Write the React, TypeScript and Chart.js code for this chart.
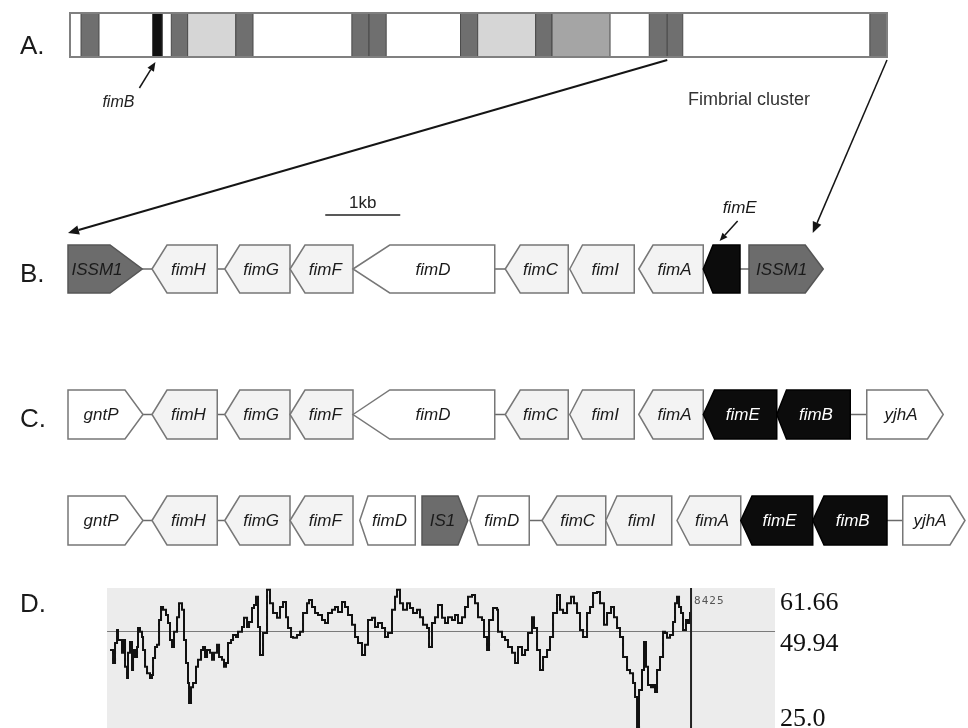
import React, { useEffect, useRef } from "react";
import { Chart, registerables } from "chart.js";

Chart.register(...registerables);

// ---------------- Panel A : chromosome map (position, % of mapped region) ----------------
const mapLength = 100;
const mapSegStart = [1.35, 10.1, 12.4, 14.4, 20.3, 34.5, 36.6, 47.8, 49.9, 57.0, 59.0, 70.9, 73.1, 97.9];
const mapSegEnd = [3.55, 11.3, 14.4, 20.3, 22.4, 36.6, 38.7, 49.9, 57.0, 59.0, 66.1, 73.1, 75.0, 100];
const mapSegKind = ["dark", "black", "dark", "light", "dark", "dark", "dark", "dark", "light", "dark", "mid", "dark", "dark", "dark"];
const fimBMapPos = 10.7;
const clusterMapStart = 73.1;
const clusterMapEnd = 100;

// ---------------- Panel B : fimbrial cluster (kb) ----------------
const rowBNames = ["ISSM1", "fimH", "fimG", "fimF", "fimD", "fimC", "fimI", "fimA", "fimE", "ISSM1"];
const rowBStart = [0.0, 1.12, 2.09, 2.96, 3.8, 5.83, 6.69, 7.61, 8.47, 9.08];
const rowBEnd = [0.99, 1.99, 2.96, 3.8, 5.69, 6.67, 7.55, 8.47, 8.96, 10.07];
const rowBStrand = [1, -1, -1, -1, -1, -1, -1, -1, -1, 1];
const rowBHead = [0.43, 0.2, 0.2, 0.2, 0.49, 0.2, 0.17, 0.19, 0.13, 0.24];
const rowBLinks = [[0.99, 1.12], [1.99, 2.09], [5.69, 5.83], [8.96, 9.08]];
const rowBCallout = [8];
const clusterRowStart = 0.0;
const clusterRowEnd = 9.93;

// ---------------- Panel C : fim operons (kb) ----------------
const rowCNames = ["gntP", "fimH", "fimG", "fimF", "fimD", "fimC", "fimI", "fimA", "fimE", "fimB", "yjhA"];
const rowCStart = [0.0, 1.12, 2.09, 2.96, 3.8, 5.83, 6.69, 7.61, 8.47, 9.45, 10.65];
const rowCEnd = [1.0, 1.99, 2.96, 3.8, 5.69, 6.67, 7.55, 8.47, 9.45, 10.43, 11.67];
const rowCStrand = [1, -1, -1, -1, -1, -1, -1, -1, -1, -1, 1];
const rowCHead = [0.24, 0.2, 0.2, 0.2, 0.49, 0.2, 0.17, 0.19, 0.15, 0.13, 0.21];
const rowCLinks = [[1.0, 1.12], [1.99, 2.09], [5.69, 5.83], [10.43, 10.65]];

const rowC2Names = ["gntP", "fimH", "fimG", "fimF", "fimD", "IS1", "fimD", "fimC", "fimI", "fimA", "fimE", "fimB", "yjhA"];
const rowC2Start = [0.0, 1.12, 2.09, 2.96, 3.89, 4.72, 5.36, 6.32, 7.17, 8.12, 8.97, 9.93, 11.13];
const rowC2End = [1.0, 1.99, 2.96, 3.8, 4.63, 5.33, 6.15, 7.17, 8.05, 8.97, 9.93, 10.92, 11.96];
const rowC2Strand = [1, -1, -1, -1, -1, 1, -1, -1, -1, -1, -1, -1, 1];
const rowC2Head = [0.24, 0.2, 0.2, 0.2, 0.11, 0.13, 0.11, 0.2, 0.15, 0.17, 0.15, 0.15, 0.2];
const rowC2Links = [[1.0, 1.12], [1.99, 2.09], [6.15, 6.32], [10.92, 11.13]];

const scaleBarStart = 3.43;
const scaleBarLength = 1; // kb

// ---------------- Panel D : GC content (bp, %) ----------------
const gcPos = [0, 44, 73, 102, 116, 174, 189, 218, 247, 261, 290, 319, 334, 363, 392, 406, 435, 464, 479, 508,
  537, 580, 609, 624, 653, 682, 711, 740, 769, 812, 841, 870, 899, 928, 972, 1001, 1044, 1073, 1102, 1131,
  1146, 1175, 1204, 1247, 1276, 1320, 1349, 1378, 1407, 1450, 1479, 1508, 1552, 1581, 1624, 1653, 1682, 1711, 1755, 1784,
  1827, 1856, 1914, 1943, 1987, 2016, 2059, 2088, 2117, 2146, 2175, 2219, 2277, 2320, 2364, 2422, 2465, 2509, 2552, 2581,
  2625, 2654, 2712, 2755, 2799, 2857, 2886, 2929, 2973, 3016, 3074, 3118, 3161, 3219, 3263, 3306, 3364, 3408, 3451, 3509,
  3553, 3596, 3654, 3698, 3741, 3799, 3843, 3886, 3944, 3988, 4031, 4089, 4133, 4162, 4205, 4249, 4307, 4350, 4394, 4452,
  4495, 4539, 4597, 4626, 4669, 4713, 4756, 4814, 4858, 4901, 4959, 5003, 5046, 5104, 5148, 5191, 5249, 5293, 5336, 5394,
  5423, 5467, 5496, 5554, 5612, 5626, 5684, 5728, 5771, 5829, 5873, 5916, 5974, 6018, 6061, 6119, 6148, 6192, 6235, 6279,
  6337, 6380, 6424, 6482, 6525, 6569, 6627, 6685, 6728, 6772, 6815, 6859, 6917, 6960, 7004, 7062, 7105, 7163, 7207, 7265,
  7308, 7352, 7395, 7439, 7497, 7540, 7584, 7613, 7642, 7671, 7714, 7743, 7772, 7801, 7845, 7874, 7903, 7932, 7975, 8019,
  8048, 8077, 8120, 8164, 8193, 8222, 8251, 8280, 8309, 8352, 8381, 8410];
const gcVal = [44.5, 40.8, 46.5, 50.2, 47.4, 43.7, 47.4, 39.7, 36.5, 43.7, 46.8, 38.8, 44.5, 42.5, 45.4, 50.8, 49.7, 48.2, 44.5, 39.7,
  37.9, 36.5, 37.4, 42.2, 45.4, 46.0, 53.1, 56.8, 56.0, 54.5, 52.2, 47.4, 45.4, 49.7, 53.9, 57.9, 56.0, 47.4, 40.8, 35.1,
  29.4, 33.9, 35.1, 39.7, 41.7, 44.5, 45.4, 42.5, 44.5, 43.7, 41.7, 43.7, 46.0, 42.5, 41.7, 39.7, 40.8, 46.5, 47.4, 48.8,
  48.2, 49.7, 51.1, 53.7, 51.1, 52.5, 56.5, 57.4, 59.7, 51.1, 43.1, 49.4, 61.7, 57.9, 55.1, 53.7, 56.8, 58.2, 53.9, 50.8,
  48.2, 48.0, 48.8, 49.7, 55.1, 57.9, 58.8, 56.8, 55.1, 54.5, 53.1, 52.2, 55.1, 56.0, 56.8, 55.4, 58.2, 56.8, 54.5, 51.7,
  48.2, 46.5, 43.1, 46.0, 53.1, 53.7, 51.1, 52.2, 50.8, 48.2, 49.4, 56.0, 59.7, 61.7, 57.9, 56.0, 57.9, 56.5, 55.1, 56.0,
  53.9, 51.7, 50.8, 45.4, 52.2, 53.9, 57.4, 53.7, 52.2, 53.9, 53.1, 54.5, 52.2, 53.9, 56.8, 59.7, 60.2, 57.9, 53.9, 53.1,
  48.2, 44.5, 53.1, 56.5, 56.0, 49.7, 48.2, 47.4, 45.4, 43.7, 40.8, 45.4, 43.1, 44.5, 49.4, 53.9, 50.8, 44.5, 38.8, 42.5,
  44.5, 48.2, 55.1, 60.2, 56.0, 55.1, 57.9, 59.7, 57.9, 55.1, 50.2, 48.2, 55.1, 56.8, 60.8, 61.1, 57.9, 51.7, 55.1, 56.8,
  53.9, 50.8, 48.2, 42.5, 38.8, 37.9, 35.1, 31.1, 22.5, 33.1, 38.8, 46.8, 39.7, 34.5, 33.9, 34.5, 32.5, 38.8, 42.5, 49.7,
  49.4, 48.0, 48.8, 52.5, 57.9, 59.7, 56.8, 55.1, 50.2, 53.1, 52.2, 55.4];
const gcTickLabels = ["61.66", "49.94", "25.0"];
const gcTickValues = [61.66, 49.94, 25.0];
const gcMean = 49.94;
const gcCursor = 8425;
const gcPanelStart = -43;
const gcPanelEnd = 9643;

// ---------------- layout (canvas units) ----------------
const W = 968;
const H = 728;
const SANS = '"Liberation Sans", Arial, Helvetica, sans-serif';
const SERIF = '"Liberation Serif", "Times New Roman", serif';

function geneFill(name: string) {
  if (name.startsWith("IS")) return "#6c6c6c";
  if (name === "fimE" || name === "fimB") return "#0c0c0c";
  if (name === "fimD" || name === "gntP" || name === "yjhA") return "#ffffff";
  return "#f3f3f3";
}
function geneStroke(name: string) {
  if (name.startsWith("IS")) return "#555555";
  if (name === "fimE" || name === "fimB") return "#000000";
  return "#777777";
}
function mapFill(kind: string) {
  if (kind === "dark") return "#6f6f6f";
  if (kind === "black") return "#111111";
  if (kind === "light") return "#d6d6d6";
  return "#a5a5a5";
}

function arrowLine(ctx: CanvasRenderingContext2D, x0: number, y0: number, x1: number, y1: number, headLen: number, width: number) {
  ctx.save();
  ctx.strokeStyle = "#151515";
  ctx.fillStyle = "#151515";
  ctx.lineWidth = width;
  const ang = Math.atan2(y1 - y0, x1 - x0);
  const bx = x1 - headLen * Math.cos(ang);
  const by = y1 - headLen * Math.sin(ang);
  ctx.beginPath();
  ctx.moveTo(x0, y0);
  ctx.lineTo(bx, by);
  ctx.stroke();
  const hw = headLen * 0.42;
  ctx.beginPath();
  ctx.moveTo(x1, y1);
  ctx.lineTo(bx + hw * Math.sin(ang), by - hw * Math.cos(ang));
  ctx.lineTo(bx - hw * Math.sin(ang), by + hw * Math.cos(ang));
  ctx.closePath();
  ctx.fill();
  ctx.restore();
}

function drawRow(
  ctx: CanvasRenderingContext2D, xs: any, ys: any,
  names: string[], starts: number[], ends: number[], strands: number[], heads: number[],
  links: number[][], top: number, bot: number, callouts: number[] = []
) {
  const yT = ys.getPixelForValue(top);
  const yB = ys.getPixelForValue(bot);
  const yM = (yT + yB) / 2;
  ctx.save();
  ctx.strokeStyle = "#6a6a6a";
  ctx.lineWidth = 1.5;
  links.forEach(([a, b]) => {
    ctx.beginPath();
    ctx.moveTo(xs.getPixelForValue(a), yM);
    ctx.lineTo(xs.getPixelForValue(b), yM);
    ctx.stroke();
  });
  names.forEach((n, i) => {
    const s = xs.getPixelForValue(starts[i]);
    const e = xs.getPixelForValue(ends[i]);
    const h = xs.getPixelForValue(starts[i] + heads[i]) - s;
    ctx.beginPath();
    if (strands[i] > 0) {
      ctx.moveTo(s, yT); ctx.lineTo(e - h, yT); ctx.lineTo(e, yM); ctx.lineTo(e - h, yB); ctx.lineTo(s, yB);
    } else {
      ctx.moveTo(s, yM); ctx.lineTo(s + h, yT); ctx.lineTo(e, yT); ctx.lineTo(e, yB); ctx.lineTo(s + h, yB);
    }
    ctx.closePath();
    ctx.fillStyle = geneFill(n);
    ctx.fill();
    ctx.strokeStyle = geneStroke(n);
    ctx.lineWidth = 1.5;
    ctx.stroke();
    if (!callouts.includes(i)) {
      const cx = (s + e) / 2 - (strands[i] * h) / 4;
      ctx.fillStyle = n === "fimE" || n === "fimB" ? "#ffffff" : "#1a1a1a";
      ctx.font = `italic 17px ${SANS}`;
      ctx.textAlign = "center";
      ctx.textBaseline = "middle";
      ctx.fillText(n, cx, yM + 1);
    }
  });
  ctx.restore();
}

function text(ctx: CanvasRenderingContext2D, t: string, x: number, y: number, font: string, color: string, align: CanvasTextAlign = "left", base: CanvasTextBaseline = "middle") {
  ctx.save();
  ctx.font = font;
  ctx.fillStyle = color;
  ctx.textAlign = align;
  ctx.textBaseline = base;
  ctx.fillText(t, x, y);
  ctx.restore();
}

const diagramPlugin = {
  id: "fimDiagram",
  beforeDatasetsDraw(chart: any) {
    const ctx: CanvasRenderingContext2D = chart.ctx;
    const xd = chart.scales.xd;
    const yd = chart.scales.yd;
    const x0 = xd.getPixelForValue(gcPanelStart);
    const x1 = xd.getPixelForValue(gcPanelEnd);
    const yTop = yd.getPixelForValue(62.23);
    const yBot = yd.getPixelForValue(yd.min);
    ctx.save();
    ctx.fillStyle = "#ececec";
    ctx.fillRect(x0, yTop, x1 - x0, yBot - yTop);
    ctx.strokeStyle = "#7a7a7a";
    ctx.lineWidth = 1;
    const ym = Math.round(yd.getPixelForValue(gcMean)) + 0.5;
    ctx.beginPath();
    ctx.moveTo(x0, ym);
    ctx.lineTo(x1, ym);
    ctx.stroke();
    ctx.restore();
  },
  afterDatasetsDraw(chart: any) {
    const ctx: CanvasRenderingContext2D = chart.ctx;
    const { x, xa, xd, y, yd } = chart.scales;

    // ---- panel D extras
    const xc = xd.getPixelForValue(gcCursor);
    const yTop = yd.getPixelForValue(62.23);
    ctx.save();
    ctx.strokeStyle = "#222";
    ctx.lineWidth = 2;
    ctx.beginPath();
    ctx.moveTo(xc, yTop);
    ctx.lineTo(xc, H);
    ctx.stroke();
    ctx.restore();
    ctx.save();
    ctx.font = `11px "DejaVu Sans Mono", monospace`;
    (ctx as any).letterSpacing = "1px";
    ctx.fillStyle = "#555";
    ctx.textBaseline = "middle";
    ctx.fillText(String(gcCursor), xc + 3, yTop + 13);
    ctx.restore();
    const xl = xd.getPixelForValue(gcPanelEnd) + 5;
    gcTickLabels.forEach((t, i) => {
      const py = Math.min(yd.getPixelForValue(gcTickValues[i]), H - 22);
      text(ctx, t, xl, py, `26px ${SERIF}`, "#111", "left", "top");
    });

    // ---- panel A : map
    const aTop = y.getPixelForValue(13);
    const aBot = y.getPixelForValue(57);
    const ax0 = xa.getPixelForValue(0);
    const ax1 = xa.getPixelForValue(mapLength);
    ctx.save();
    ctx.fillStyle = "#fff";
    ctx.fillRect(ax0, aTop, ax1 - ax0, aBot - aTop);
    mapSegStart.forEach((s, i) => {
      const px0 = xa.getPixelForValue(s);
      const px1 = xa.getPixelForValue(mapSegEnd[i]);
      ctx.fillStyle = mapFill(mapSegKind[i]);
      ctx.fillRect(px0, aTop, px1 - px0, aBot - aTop);
      ctx.strokeStyle = "#4a4a4a";
      ctx.lineWidth = 1;
      ctx.strokeRect(px0, aTop, px1 - px0, aBot - aTop);
    });
    ctx.strokeStyle = "#808080";
    ctx.lineWidth = 2;
    ctx.strokeRect(ax0, aTop, ax1 - ax0, aBot - aTop);
    ctx.restore();

    // fimB callout on the map
    const fbx = xa.getPixelForValue(fimBMapPos);
    arrowLine(ctx, fbx - 18, y.getPixelForValue(88), fbx - 2, y.getPixelForValue(62), 9, 1.5);
    text(ctx, "fimB", fbx - 39, y.getPixelForValue(103), `italic 16px ${SANS}`, "#222", "center");
    text(ctx, "Fimbrial cluster", 749, y.getPixelForValue(100), `18px ${SANS}`, "#333", "center");

    // zoom lines from the map to row B
    arrowLine(ctx, xa.getPixelForValue(clusterMapStart), y.getPixelForValue(60),
      x.getPixelForValue(clusterRowStart), y.getPixelForValue(233), 11, 2);
    arrowLine(ctx, xa.getPixelForValue(clusterMapEnd), y.getPixelForValue(60),
      x.getPixelForValue(clusterRowEnd), y.getPixelForValue(233), 11, 1.5);

    // scale bar
    const sb0 = x.getPixelForValue(scaleBarStart);
    const sb1 = x.getPixelForValue(scaleBarStart + scaleBarLength);
    ctx.save();
    ctx.strokeStyle = "#222";
    ctx.lineWidth = 1.5;
    ctx.beginPath();
    ctx.moveTo(sb0, y.getPixelForValue(215));
    ctx.lineTo(sb1, y.getPixelForValue(215));
    ctx.stroke();
    ctx.restore();
    text(ctx, "1kb", (sb0 + sb1) / 2, y.getPixelForValue(203), `17px ${SANS}`, "#222", "center");

    // rows
    drawRow(ctx, x, y, rowBNames, rowBStart, rowBEnd, rowBStrand, rowBHead, rowBLinks, 245, 293, rowBCallout);
    const fe = rowBCallout[0];
    const fex = x.getPixelForValue((rowBStart[fe] + rowBEnd[fe]) / 2);
    arrowLine(ctx, fex + 16, y.getPixelForValue(221), fex - 2, y.getPixelForValue(241), 8, 1.5);
    text(ctx, "fimE", fex + 18, y.getPixelForValue(208), `italic 17px ${SANS}`, "#1a1a1a", "center");

    drawRow(ctx, x, y, rowCNames, rowCStart, rowCEnd, rowCStrand, rowCHead, rowCLinks, 390, 439);
    drawRow(ctx, x, y, rowC2Names, rowC2Start, rowC2End, rowC2Strand, rowC2Head, rowC2Links, 496, 545);

    // panel letters
    const lf = `26px ${SANS}`;
    text(ctx, "A.", 20, y.getPixelForValue(47), lf, "#1a1a1a");
    text(ctx, "B.", 20, y.getPixelForValue(275), lf, "#1a1a1a");
    text(ctx, "C.", 20, y.getPixelForValue(420), lf, "#1a1a1a");
    text(ctx, "D.", 20, y.getPixelForValue(605), lf, "#1a1a1a");
  },
};

export default function App() {
  const canvasRef = useRef<HTMLCanvasElement | null>(null);

  useEffect(() => {
    if (!canvasRef.current) return;
    const chart = new Chart(canvasRef.current, {
      type: "scatter",
      data: {
        datasets: [
          {
            label: "GC content",
            data: gcPos.map((p, i) => ({ x: p, y: gcVal[i] })),
            xAxisID: "xd",
            yAxisID: "yd",
            showLine: true,
            stepped: true,
            borderColor: "#111",
            borderWidth: 2,
            pointRadius: 0,
            fill: false,
          } as any,
        ],
      },
      options: {
        animation: false,
        responsive: false,
        devicePixelRatio: 1,
        events: [],
        layout: { padding: 0 },
        plugins: { legend: { display: false }, tooltip: { enabled: false } },
        scales: {
          x: { type: "linear", axis: "x", min: -68 / 75, max: (W - 68) / 75, display: false },
          xa: { type: "linear", axis: "x", min: -70 / 8.17, max: (W - 70) / 8.17, display: false },
          xd: { type: "linear", axis: "x", min: -110 * 14.5, max: (W - 110) * 14.5, display: false },
          y: { type: "linear", axis: "y", min: 0, max: H, reverse: true, display: false },
          yd: { type: "linear", axis: "y", min: 61.66 - 138 / 3.5, max: 61.66 + 590 / 3.5, display: false },
        },
      } as any,
      plugins: [diagramPlugin],
    });
    return () => chart.destroy();
  }, []);

  return (
    <div style={{ position: "absolute", left: 0, top: 0, width: W, height: H, background: "#fff" }}>
      <canvas ref={canvasRef} width={W} height={H} style={{ width: W, height: H, display: "block" }} />
    </div>
  );
}
